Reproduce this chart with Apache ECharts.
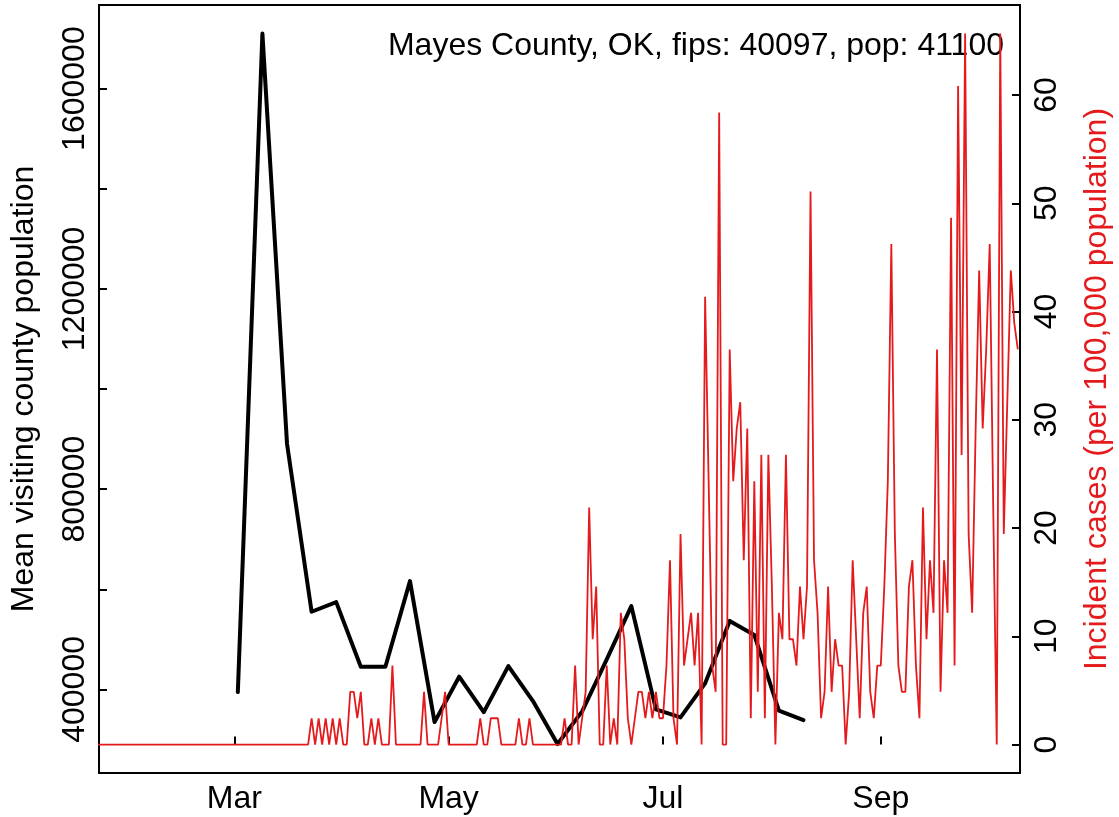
<!DOCTYPE html>
<html>
<head>
<meta charset="utf-8">
<title>Mayes County, OK</title>
<script src="https://cdn.jsdelivr.net/npm/echarts@6.0.0/dist/echarts.min.js"></script>
<style>
  html, body { margin: 0; padding: 0; background: #fff; }
  #chart { width: 1119px; height: 817px; }
</style>
</head>
<body>
<div id="chart"></div>
<script>
// Visiteurs moyens (semaine, lundi)
const visitDates = [
    '2020-03-02', '2020-03-09', '2020-03-16', '2020-03-23', '2020-03-30', '2020-04-06',
    '2020-04-13', '2020-04-20', '2020-04-27', '2020-05-04', '2020-05-11', '2020-05-18',
    '2020-05-25', '2020-06-01', '2020-06-08', '2020-06-15', '2020-06-22', '2020-06-29',
    '2020-07-06', '2020-07-13', '2020-07-20', '2020-07-27', '2020-08-03', '2020-08-10'
];
const meanVisitors = [
    394600, 1710000, 890800, 555100, 574300, 445300,
    445300, 616200, 334700, 425400, 354700, 446500,
    376600, 290800, 356100, 459900, 566300, 360100,
    344100, 412000, 536800, 508800, 357500, 338700
];

// Cas incidents quotidiens pour 100 000 habitants, à partir du 21 janvier
const incidenceStart = '2020-01-21';
const incidence = [
    0, 0, 0, 0, 0, 0, 0, 0, 0, 0,
    0, 0, 0, 0, 0, 0, 0, 0, 0, 0,
    0, 0, 0, 0, 0, 0, 0, 0, 0, 0,
    0, 0, 0, 0, 0, 0, 0, 0, 0, 0,
    0, 0, 0, 0, 0, 0, 0, 0, 0, 0,
    0, 0, 0, 0, 0, 0, 0, 0, 0, 0,
    0, 0,
    2.43, 0, 2.43, 0, 2.43, 0, 2.43, 0, 2.43, 0, 0,
    4.87, 4.87, 2.43, 4.87, 0, 0, 2.43, 0, 2.43, 0, 0, 0, 7.30, 0,
    0, 0, 0, 0, 0, 0, 0,
    4.87, 0, 0, 0, 0, 2.43, 4.87, 0,
    0, 0, 0, 0, 0, 0, 0, 0,
    2.43, 0, 0, 2.43, 2.43, 2.43, 0,
    0, 0, 0, 0,
    2.43, 0, 0, 2.43,
    0, 0, 0, 0, 0, 0, 0, 0, 0,
    2.43, 0, 0, 7.30, 0, 2.43, 4.87, 21.90, 9.73, 14.60,
    0, 0, 7.30, 0, 2.43, 0, 12.17, 9.73, 2.43, 0,
    2.43, 4.87, 4.87, 2.43, 4.87, 2.43, 4.87, 2.43, 2.43, 7.30,
    17.03, 2.43, 0, 19.46, 7.30, 9.73, 12.17, 7.30, 12.17, 0,
    41.36, 24.33, 7.30, 4.87, 58.39, 0, 0, 36.50, 24.33, 29.20,
    31.63, 17.03, 29.20, 2.43, 24.33, 4.87, 26.76, 2.43, 26.76, 14.60,
    0, 12.17, 9.73, 26.76, 9.73, 9.73, 7.30, 14.60, 9.73, 14.60,
    51.09, 17.03, 12.17, 2.43, 4.87, 14.60, 4.87, 9.73, 7.30, 7.30,
    0, 4.87, 17.03, 9.73, 2.43, 12.17, 14.60, 4.87, 2.43, 7.30,
    7.30, 14.60, 24.33, 46.23, 19.46, 7.30, 4.87, 4.87, 14.60, 17.03,
    7.30, 2.43, 21.90, 9.73, 17.03, 12.17, 36.50, 4.87, 17.03, 12.17,
    48.66, 7.30, 60.83, 26.76, 65.69, 19.46, 12.17, 29.20, 43.80, 29.20,
    36.50, 46.23, 21.90, 0, 65.69, 19.46, 31.63, 43.80, 38.93, 36.50
];

// Graduations
const monthTicks = ['2020-03-01', '2020-05-01', '2020-07-01', '2020-09-01'];
const monthNames = ['Jan', 'Feb', 'Mar', 'Apr', 'May', 'Jun', 'Jul', 'Aug', 'Sep', 'Oct', 'Nov', 'Dec'];
const visitorTicks = [400000, 600000, 800000, 1000000, 1200000, 1400000, 1600000];
const visitorLabels = [400000, 800000, 1200000, 1600000];
const caseTicks = [0, 10, 20, 30, 40, 50, 60];

const titleText = 'Mayes County, OK, fips: 40097, pop: 41100';

const DAY = 86400000;
const FONT = '"Liberation Sans", Arial, Helvetica, sans-serif';
const RED = '#E41A1C';

// L'axe des x est numérique (timestamps UTC) pour placer les graduations à la main
const visitSeries = visitDates.map((d, i) => [Date.parse(d), meanVisitors[i]]);
const caseSeries = incidence.map((v, i) => [Date.parse(incidenceStart) + i * DAY, v]);
const monthValues = monthTicks.map(d => Date.parse(d));
const marchFirst = Date.parse('2020-03-01');

const dom = document.getElementById('chart');
const myChart = echarts.init(dom, null, { renderer: 'canvas' });

myChart.setOption({
    animation: false,
    backgroundColor: '#fff',
    grid: {
        left: 99,
        right: 99,
        top: 5,
        bottom: 44,
        outerBoundsMode: 'none',
        show: true,
        borderColor: '#000',
        borderWidth: 2,
        backgroundColor: 'transparent'
    },
    graphic: [
        {
            type: 'text',
            right: 115,
            top: 30,
            style: {
                text: titleText,
                font: '32px ' + FONT,
                fill: '#000'
            }
        }
    ],
    xAxis: {
        type: 'value',
        min: marchFirst - 38.51 * DAY,
        max: marchFirst + 223.62 * DAY,
        axisLine: { show: false },
        splitLine: { show: false },
        axisTick: {
            inside: true,
            length: 8,
            lineStyle: { color: '#000', width: 2 },
            customValues: monthValues
        },
        axisLabel: {
            margin: 10,
            fontSize: 32,
            fontFamily: FONT,
            color: '#000',
            customValues: monthValues,
            formatter: value => monthNames[new Date(value).getUTCMonth()]
        }
    },
    yAxis: [
        {
            type: 'value',
            position: 'left',
            min: 233000,
            max: 1767000,
            name: 'Mean visiting county population',
            nameLocation: 'middle',
            nameGap: 59,
            nameRotate: 90,
            nameTextStyle: { fontSize: 32, fontFamily: FONT, color: '#000' },
            axisLine: { show: false },
            splitLine: { show: false },
            axisTick: {
                inside: true,
                length: 8,
                lineStyle: { color: '#000', width: 2 },
                customValues: visitorTicks
            },
            axisLabel: {
                rotate: 90,
                margin: 8,
                fontSize: 32,
                fontFamily: FONT,
                color: '#000',
                customValues: visitorLabels,
                formatter: value => String(value)
            }
        },
        {
            type: 'value',
            position: 'right',
            min: -2.628,
            max: 68.321,
            name: 'Incident cases (per 100,000 population)',
            nameLocation: 'middle',
            nameGap: 61,
            nameRotate: 90,
            nameTextStyle: { fontSize: 32, fontFamily: FONT, color: RED },
            axisLine: { show: false },
            splitLine: { show: false },
            axisTick: {
                inside: true,
                length: 8,
                lineStyle: { color: '#000', width: 2 },
                customValues: caseTicks
            },
            axisLabel: {
                rotate: 90,
                margin: 11,
                fontSize: 32,
                fontFamily: FONT,
                color: '#000',
                customValues: caseTicks,
                formatter: value => String(value)
            }
        }
    ],
    series: [
        {
            name: 'Mean visiting county population',
            type: 'line',
            yAxisIndex: 0,
            data: visitSeries,
            symbol: 'none',
            z: 2,
            lineStyle: { color: '#000', width: 4, join: 'round', cap: 'round' }
        },
        {
            name: 'Incident cases',
            type: 'line',
            yAxisIndex: 1,
            data: caseSeries,
            symbol: 'none',
            clip: true,
            z: 3,
            lineStyle: { color: RED, width: 1.8 }
        }
    ]
});

window.addEventListener('resize', function () {
    myChart.resize();
});
</script>
</body>
</html>
